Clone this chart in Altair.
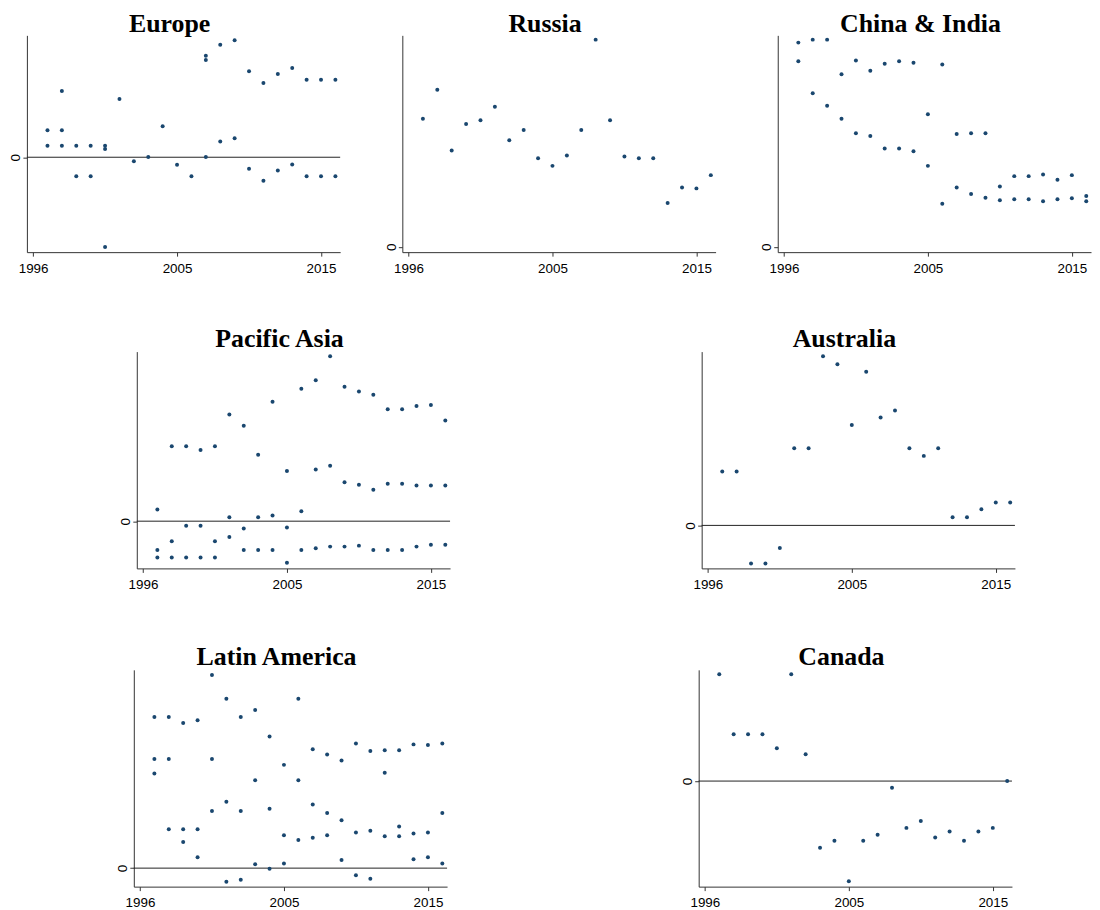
import altair as alt
import pandas as pd

YEARS = list(range(1996, 2017))
TICK_VALUES = [1995, 2005, 2015]
TICK_LABELS = ["1996", "2005", "2015"]

# values per year (1996..2016), several observations per year where the panel shows several
europe = [[27.3, 11.7], [67, 27.3, 11.7], [11.7, -19.3], [11.7, -19.3], [11.7, 8.3, -90.7],
          [59], [-4], [0.3], [31.3], [-7.7], [-19.3], [102.7, 98.3, 0.3], [113.7, 16],
          [118.3, 19.3], [87, -11.7], [75, -23.7], [84.3, -13.3], [90.3, -7.3],
          [78.3, -19.3], [78.3, -19.3], [78.3, -19.3]]
russia = [[128.7], [157.7], [96.7], [123.3], [127], [140.7], [107], [117.3], [89], [81.3],
          [91.7], [117.3], [208], [127], [90.7], [89], [89], [44], [59.7], [58.7], [72]]
china_india = [[205, 186.3], [208, 154.3], [208, 141.7], [173.3, 128.7], [187, 114],
               [176.7, 111.3], [183.7, 98.7], [186.3, 98.7], [184.7, 96], [133, 81.3],
               [183, 43.3], [113.3, 59.7], [114, 53], [114, 49.3], [60.7, 46.7], [71, 47.7],
               [71, 47.7], [72.7, 45.7], [67.3, 47.7], [72, 48.7], [51, 45.7]]
pacific_asia = [[11.7, -29, -36.7], [75.7, -20.3, -36.7], [75.7, -4.7, -36.7], [72, -4.7, -36.7],
                [75.7, -20.3, -36.7], [107.7, 4, -16], [96.3, -7.3, -29], [67, 4, -29],
                [120.7, 5.7, -29], [50.7, -6.3, -42], [133.7, 10, -29], [142.3, 52.3, -27.3],
                [166.7, 56, -25.7], [135.7, 39.3, -25.7], [131, 36.7, -24.7], [127.7, 31.7, -29],
                [113, 37.7, -29], [113, 37.7, -29], [116.3, 36, -25.7], [117.3, 36, -23.7],
                [101.7, 36, -23.7]]
australia = [[54.3], [54.3], [-38.3], [-38.3], [-22.7], [77.7], [77.7], [170.3], [162.3], [101],
             [154.7], [108.7], [115.7], [77.7], [70], [77.7], [8.3], [8.3], [16.3], [23], [23]]
latin_america = [[152.7, 110.3, 95.7], [152.7, 110.3, 39.3], [146.7, 39.3, 26.3], [149.3, 39.3, 11],
                 [195, 110.3, 57.7], [171, 67, -13.7], [152.7, 57.7, -11.7], [159.7, 88.7, 4],
                 [133, 60, -0.7], [104.3, 33.3, 4.7], [171, 88.7, 28.3], [120, 64.3, 30.7],
                 [114.7, 55.7, 33.3], [108.7, 48.3, 8.3], [126, 36, -7.3], [118.3, 37.7, -10.7],
                 [119, 96.3, 32.3], [119, 42, 32.3], [125, 35, 9], [124.3, 36, 11], [126, 55.7, 4.7]]
canada = [[107.3], [47], [47], [47], [33], [107.3], [27], [-67], [-60], [-100.7], [-60], [-54],
          [-6.7], [-47], [-40], [-56.7], [-50.7], [-60], [-50.7], [-47], [0]]

W = 315
H = 218
DOT = "#1a476f"
AXC = "#333333"

label_expr = " : ".join(
    f"datum.value === {v} ? '{l}'" for v, l in zip(TICK_VALUES[:-1], TICK_LABELS[:-1])
) + f" : '{TICK_LABELS[-1]}'"


def frame(per_year):
    rows = []
    for yr, vals in zip(YEARS, per_year):
        for v in vals:
            rows.append({"year": yr, "value": v})
    return pd.DataFrame(rows)


def panel(name, per_year, ydom, zero_line, title_offset=0):
    df = frame(per_year)
    x = alt.X("year:Q",
              scale=alt.Scale(domain=[1994.57, 2016.33], nice=False, zero=False),
              axis=alt.Axis(values=TICK_VALUES, labelExpr=label_expr, title=None, grid=False,
                            tickSize=4, labelPadding=5, labelFontSize=13.5,
                            labelFont="Liberation Sans", labelColor="black", labelFlush=False,
                            domainColor=AXC, tickColor=AXC, labelOverlap=False))
    y = alt.Y("value:Q",
              scale=alt.Scale(domain=ydom, nice=False, zero=False),
              axis=alt.Axis(values=[0], title=None, grid=False, tickSize=4, labelPadding=0,
                            labelAngle=-90, labelFontSize=13.5, labelFont="Liberation Sans",
                            labelColor="black", domainColor=AXC, tickColor=AXC))
    pts = alt.Chart(df).mark_circle(size=16, color=DOT, opacity=1).encode(x=x, y=y)
    layers = []
    if zero_line:
        rule = alt.Chart(pd.DataFrame({"value": [0]})).mark_rule(
            color="#222222", strokeWidth=1).encode(y=y)
        layers.append(rule)
    layers.append(pts)
    return alt.layer(*layers).properties(
        width=W, height=H,
        title=alt.TitleParams(text=name, font="Liberation Serif", fontSize=26,
                              fontWeight="bold", color="black", anchor="middle",
                              frame="group", dx=-14, offset=title_offset))


def spacer(w):
    return alt.Chart(pd.DataFrame({"a": [0]})).mark_rect(opacity=0).encode(
        x=alt.value(0), x2=alt.value(w), y=alt.value(0), y2=alt.value(H)
    ).properties(width=w, height=H)


S = 62.5
row1 = alt.hconcat(
    panel("Europe", europe, [-96, 123.3], True, -2),
    panel("Russia", russia, [-5.3, 212.3], False, -2),
    panel("China & India", china_india, [-5.3, 212.3], False, -2),
    spacing=S, bounds="flush")
row2 = alt.hconcat(
    spacer(48),
    panel("Pacific Asia", pacific_asia, [-47.7, 171.3], True),
    spacer(128),
    panel("Australia", australia, [-43.3, 175], True),
    spacing=S, bounds="flush")
row3 = alt.hconcat(
    spacer(45),
    panel("Latin America", latin_america, [-18.7, 200.3], True),
    spacer(128),
    panel("Canada", canada, [-106, 111.7], True),
    spacing=S, bounds="flush")

lower = alt.vconcat(row2, row3, spacing=52)
chart = alt.vconcat(row1, lower, spacing=50).properties(
    padding={"left": 0, "top": 0, "right": 0, "bottom": 0}
).configure_view(stroke="transparent")

chart.save("out.html", embed_options={"renderer": "svg", "actions": False})
